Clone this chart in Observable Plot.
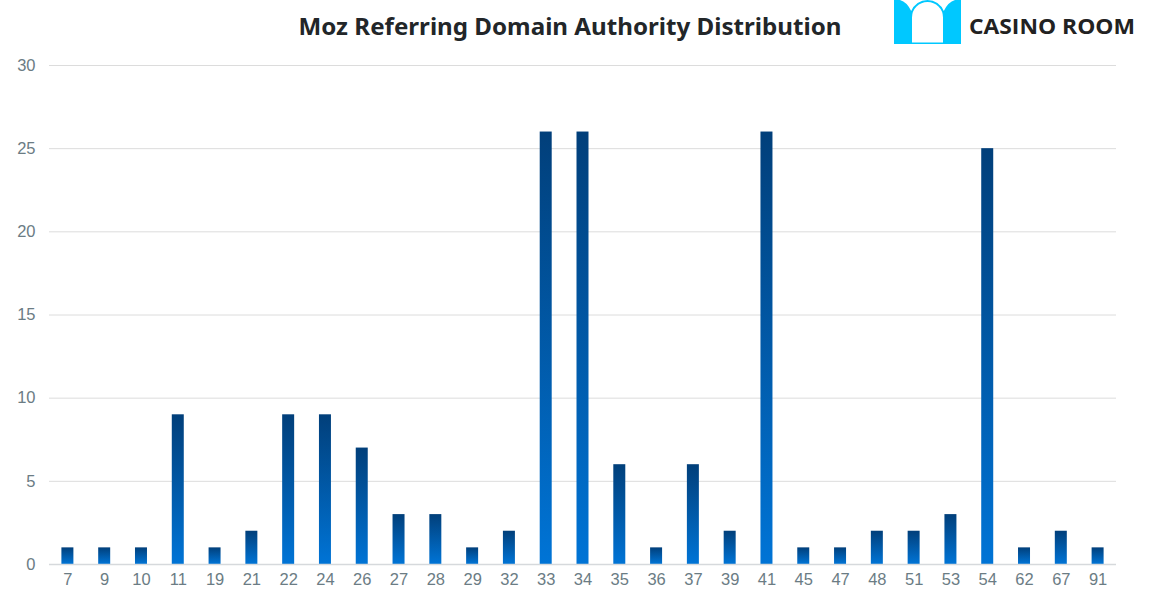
<!DOCTYPE html>
<html>
<head>
<meta charset="utf-8">
<script src="https://cdn.jsdelivr.net/npm/d3@7"></script>
<script src="https://cdn.jsdelivr.net/npm/@observablehq/plot@0.6"></script>
<style>
  html, body { margin: 0; padding: 0; background: #fff; }
  #wrap { width: 1153px; }
  #header { display: block; }
</style>
</head>
<body>
<div id="wrap">
  <svg id="header" width="1153" height="50" viewBox="0 0 1153 50">
    <text x="570" y="35" text-anchor="middle" font-family="'Noto Sans', sans-serif" font-weight="700" font-size="24" fill="#222629" textLength="543" lengthAdjust="spacingAndGlyphs">Moz Referring Domain Authority Distribution</text>
    <g transform="translate(894,0)">
      <rect x="0" y="0" width="67" height="44" fill="#00c8ff"/>
      <path d="M6,0 Q13,2 17.2,11.1 A17.5,17.5 0 0 1 33.5,0 Z" fill="#fff"/>
      <path d="M61,0 Q54,2 49.8,11.1 A17.5,17.5 0 0 0 33.5,0 Z" fill="#fff"/>
      <path d="M18,42.5 L18,17.5 A15.5,15.5 0 0 1 49,17.5 L49,42.5 Z" fill="#fff"/>
    </g>
    <text x="969" y="34" font-family="'Open Sans', sans-serif" font-weight="700" font-size="21" fill="#222" textLength="166" lengthAdjust="spacingAndGlyphs">CASINO ROOM</text>
  </svg>
  <div id="chart"></div>
</div>
<script>
const categories = ["7","9","10","11","19","21","22","24","26","27","28","29","32","33","34","35","36","37","39","41","45","47","48","51","53","54","62","67","91"];
const values = [1,1,1,9,1,2,9,9,7,3,3,1,2,26,26,6,1,6,2,26,1,1,2,2,3,25,1,2,1];
const yTicks = [0,5,10,15,20,25,30];

const data = categories.map((c, i) => ({cat: c, value: values[i]}));

const gradientDefs = () => {
  const svgNS = "http://www.w3.org/2000/svg";
  const defs = document.createElementNS(svgNS, "defs");
  defs.innerHTML = `<linearGradient id="barGrad" x1="0" y1="0" x2="0" y2="1">
      <stop offset="0%" stop-color="#013f7a"/>
      <stop offset="100%" stop-color="#0074d6"/>
    </linearGradient>`;
  return defs;
};

const chart = Plot.plot({
  width: 1153,
  height: 552,
  marginTop: 15,
  marginBottom: 38,
  marginLeft: 49,
  marginRight: 37,
  style: {fontFamily: "'Liberation Sans', Arial, sans-serif", fontSize: "16px", color: "#6b7c84", background: "#fff"},
  x: {domain: categories, padding: 0, round: false, label: null},
  y: {domain: [0, 30], label: null},
  marks: [
    gradientDefs,
    Plot.ruleY(yTicks.filter(t => t > 0), {stroke: "#dcdcdc", strokeWidth: 1}),
    Plot.barY(data, {x: "cat", y: "value", fill: "url(#barGrad)", insetLeft: 12.4, insetRight: 12.4}),
    Plot.ruleY([0], {stroke: "#d6d9dc", strokeWidth: 1.5}),
    Plot.axisX({tickSize: 0, tickPadding: 9, fontSize: 16.5, fill: "#6b7c84", label: null}),
    Plot.axisY({ticks: yTicks, tickSize: 0, tickPadding: 14, fontSize: 16.5, fill: "#6b7c84", label: null})
  ]
});
document.getElementById("chart").appendChild(chart);
</script>
</body>
</html>
